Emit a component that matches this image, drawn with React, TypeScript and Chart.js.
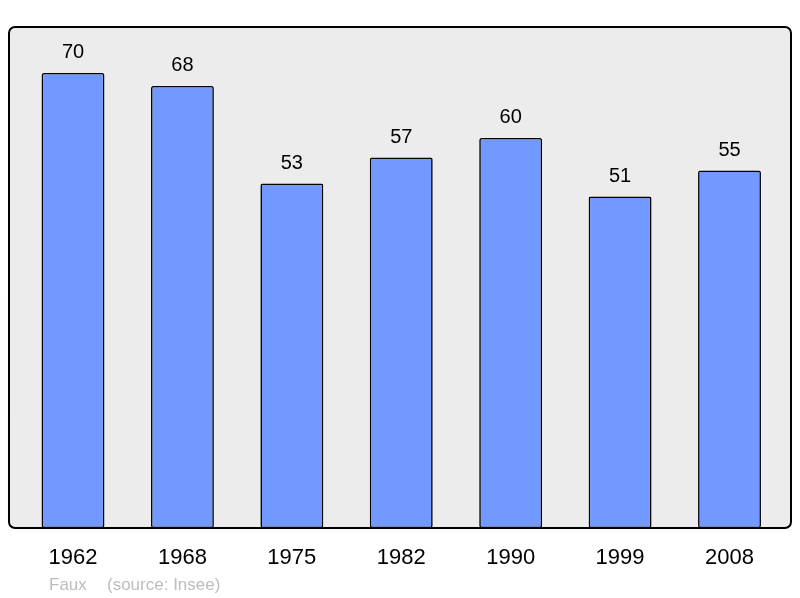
import React, { useEffect, useRef } from "react";
import { Chart, registerables } from "chart.js";

Chart.register(...registerables);

const years = ["1962", "1968", "1975", "1982", "1990", "1999", "2008"];
const population = [70, 68, 53, 57, 60, 51, 55];
const footerLeft = "Faux";
const footerRight = "(source: Insee)";

const FONT = "'Liberation Sans', Arial, sans-serif";

const framePlugin = {
  id: "frame",
  beforeDatasetsDraw(chart: any) {
    const { ctx, chartArea: a } = chart;
    ctx.save();
    ctx.fillStyle = "#ececec";
    ctx.beginPath();
    ctx.roundRect(a.left, a.top, a.right - a.left, a.bottom - a.top, 6);
    ctx.fill();
    ctx.restore();
  },
  afterDatasetsDraw(chart: any) {
    const { ctx, chartArea: a } = chart;
    ctx.save();
    ctx.strokeStyle = "#000";
    ctx.lineWidth = 2;
    ctx.beginPath();
    ctx.roundRect(a.left, a.top, a.right - a.left, a.bottom - a.top, 6);
    ctx.stroke();
    // value labels
    const meta = chart.getDatasetMeta(0);
    ctx.fillStyle = "#000";
    ctx.font = `20px ${FONT}`;
    ctx.textAlign = "center";
    ctx.textBaseline = "alphabetic";
    meta.data.forEach((bar: any, i: number) => {
      ctx.fillText(String(population[i]), bar.x, bar.y - 15);
    });
    // footer
    ctx.fillStyle = "#bdbdbd";
    ctx.font = `17px ${FONT}`;
    ctx.textAlign = "left";
    ctx.fillText(footerLeft, 49, 590);
    ctx.fillText(footerRight, 107, 590);
    ctx.restore();
  },
};

export default function App() {
  const ref = useRef<HTMLCanvasElement>(null);
  useEffect(() => {
    document.body.style.margin = "0";
    const chart = new Chart(ref.current!, {
      type: "bar",
      data: {
        labels: years,
        datasets: [
          {
            data: population.map((v, i) => ({ x: i, y: v })),
            backgroundColor: "#7299ff",
            borderColor: "#000",
            borderWidth: 1.6,
            borderRadius: 2,
            borderSkipped: false,
            barPercentage: 0.575,
            categoryPercentage: 1,
          },
        ],
      },
      options: {
        animation: false,
        responsive: false,
        maintainAspectRatio: false,
        layout: { padding: { left: 9, right: 9, top: 27, bottom: 0 } },
        plugins: { legend: { display: false }, tooltip: { enabled: false } },
        scales: {
          x: {
            type: "linear",
            offset: false,
            min: -0.585,
            max: 6.562,
            grid: { display: false, drawTicks: false, offset: false },
            border: { display: false },
            afterBuildTicks: (s: any) => {
              s.ticks = years.map((_, i) => ({ value: i }));
            },
            afterFit: (s: any) => {
              s.height = 70;
            },
            ticks: {
              autoSkip: false,
              maxRotation: 0,
              padding: 17,
              color: "#000",
              font: { family: FONT, size: 22 },
              callback: (v: any) => years[v] ?? "",
            },
          },
          y: {
            display: false,
            min: 0,
            max: 77.08,
          },
        },
      },
      plugins: [framePlugin],
    });
    return () => chart.destroy();
  }, []);
  return <canvas ref={ref} width={800} height={598} style={{ display: "block" }} />;
}
